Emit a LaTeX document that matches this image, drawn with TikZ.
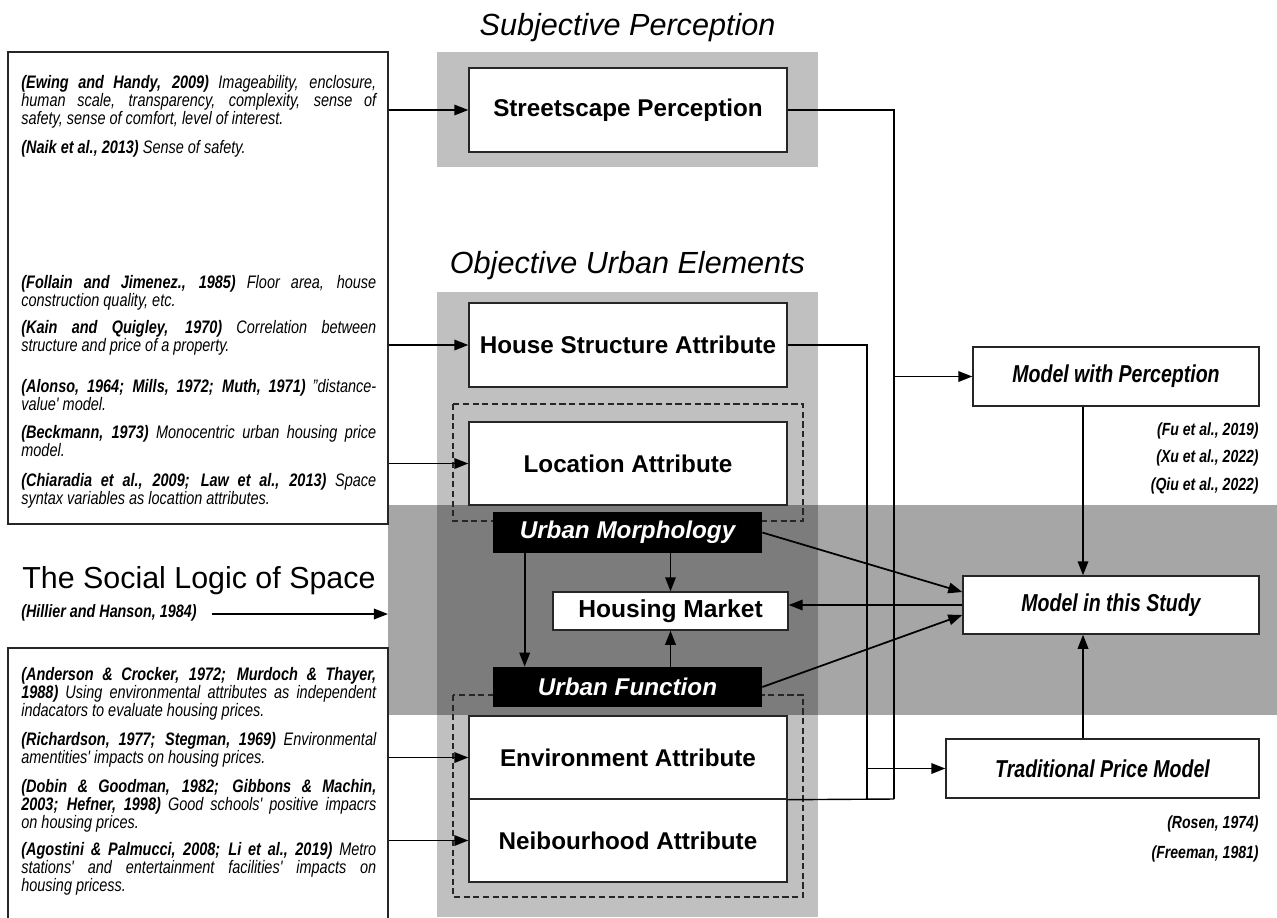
\documentclass[tikz,border=0pt]{standalone}
\usepackage{fontspec}
\setmainfont{Liberation Sans}
\newfontfamily\narrowfont[FakeStretch=0.8]{Liberation Sans}
\usetikzlibrary{arrows.meta,positioning}
\definecolor{bandgray}{HTML}{C0C0C0}
\newcommand\litpar[1]{\parbox[t]{7.1cm}{\tolerance=10000\relax #1}}

\begin{document}
\begin{tikzpicture}[x=0.02cm, y=-0.02cm,
    attrbox/.style={draw=black!85, line width=0.8pt, fill=white, inner sep=0,
      minimum width=6.36cm, minimum height=1.66cm,
      font=\fontsize{13.8pt}{15pt}\selectfont\bfseries},
    blackbox/.style={fill=black, text=white, inner sep=0,
      minimum width=5.38cm, minimum height=0.82cm,
      font=\fontsize{13.8pt}{15pt}\selectfont\bfseries\itshape},
    modelbox/.style={draw=black!85, line width=0.8pt, fill=white, inner sep=0,
      minimum height=1.18cm,
      font=\narrowfont\fontsize{13.9pt}{15pt}\selectfont\bfseries\itshape},
    refframe/.style={draw=black!85, line width=0.8pt, inner sep=0, minimum width=7.6cm},
    dashframe/.style={draw=black!85, line width=0.65pt, dash pattern=on 3.5pt off 2pt},
    reftext/.style={anchor=base west, inner sep=0,
      font=\narrowfont\fontsize{10.3pt}{10.3pt}\selectfont\itshape},
    cite/.style={anchor=base east, inner sep=0,
      font=\narrowfont\fontsize{10pt}{11pt}\selectfont\bfseries\itshape},
    heading/.style={anchor=base, inner sep=0, font=\fontsize{17.4pt}{20pt}\selectfont\itshape},
    arr/.style={-{Triangle[length=8pt,width=6pt]}, line width=1pt},
    link/.style={line width=0.8pt}]
  \useasboundingbox (0,0) rectangle (1277,917);

  % grey bands
  \fill[bandgray] (437,52) rectangle (818,167);
  \fill[bandgray] (437,292) rectangle (818,917);
  \fill[black, opacity=0.35] (388,505) rectangle (1277,715);
  \draw[dashframe] (453,404) rectangle (803,521);
  \draw[dashframe] (453,695) rectangle (803,897);

  % headings
  \node[heading] (subj) at (627.5,35) {Subjective Perception};
  \node[heading] (obj) at (627.5,273) {Objective Urban Elements};
  \node[heading, anchor=base west, font=\fontsize{17.3pt}{20pt}\selectfont] (social) at (22,588) {The Social Logic of Space};

  % literature frames
  \node[refframe, minimum height=9.44cm] (topframe) at (198,288) {};
  \node[refframe, minimum height=5.84cm] (botframe) at (198,794) {};

  \node[reftext] (ewing) at (21,88.5) {\litpar{\textbf{(Ewing and Handy, 2009)} Imageability, enclosure,\linebreak human scale, transparency, complexity, sense of\linebreak safety, sense of comfort, level of interest.}};
  \node[reftext] (naik) at (21,153.5) {\litpar{\textbf{(Naik et al., 2013)} Sense of safety.}};
  \node[reftext] (follain) at (21,288.5) {\litpar{\textbf{(Follain and Jimenez., 1985)} Floor area, house\linebreak construction quality, etc.}};
  \node[reftext] (kain) at (21,333.5) {\litpar{\textbf{(Kain and Quigley, 1970)} Correlation between\linebreak structure and price of a property.}};
  \node[reftext] (alonso) at (21,392.5) {\litpar{\textbf{(Alonso, 1964; Mills, 1972; Muth, 1971)} ”distance-\linebreak value' model.}};
  \node[reftext] (beckmann) at (21,438.5) {\litpar{\textbf{(Beckmann, 1973)} Monocentric urban housing price\linebreak model.}};
  \node[reftext] (chiaradia) at (21,486.5) {\litpar{\textbf{(Chiaradia et al., 2009; Law et al., 2013)} Space\linebreak syntax variables as locattion attributes.}};
  \node[reftext] (anderson) at (21,680.5) {\litpar{\textbf{(Anderson \& Crocker, 1972; Murdoch \& Thayer,\linebreak 1988)} Using environmental attributes as independent\linebreak indacators to evaluate housing prices.}};
  \node[reftext] (richardson) at (21,745.5) {\litpar{\textbf{(Richardson, 1977; Stegman, 1969)} Environmental\linebreak amentities' impacts on housing prices.}};
  \node[reftext] (dobin) at (21,792.5) {\litpar{\textbf{(Dobin \& Goodman, 1982; Gibbons \& Machin,\linebreak 2003; Hefner, 1998)} Good schools' positive impacrs\linebreak on housing prices.}};
  \node[reftext] (agostini) at (21,855.5) {\litpar{\textbf{(Agostini \& Palmucci, 2008; Li et al., 2019)} Metro\linebreak stations' and entertainment facilities' impacts on\linebreak housing pricess.}};
  \node[cite, anchor=base west, font=\narrowfont\fontsize{10.2pt}{11pt}\selectfont\bfseries\itshape] (hillier) at (21,617) {(Hillier and Hanson, 1984)};
  \coordinate (bandwest) at (388,614);

  % attributes
  \node[attrbox, minimum height=1.68cm] (street) at (628,110) {Streetscape Perception};
  \node[attrbox, minimum height=1.68cm] (house) at (628,345) {House Structure Attribute};
  \node[attrbox] (location) at (628,463.5) {Location Attribute};
  \node[attrbox] (envir) at (628,757.5) {Environment Attribute};
  \node[attrbox] (neigh) at (628,840.5) {Neibourhood Attribute};
  \node[blackbox] (morph) at (627.5,532.5) {Urban Morphology};
  \node[blackbox, minimum height=0.8cm] (function) at (627.5,687) {Urban Function};
  \node[attrbox, minimum width=4.7cm, minimum height=0.76cm, font=\fontsize{14pt}{15pt}\selectfont\bfseries] (market) at (670.5,611) {Housing Market};

  % models
  \node[modelbox, minimum width=5.72cm] (withper) at (1116,376.5) {Model with Perception};
  \node[modelbox, minimum width=5.92cm, minimum height=1.16cm] (study) at (1111,605) {Model in this Study};
  \node[modelbox, minimum width=6.26cm] (trad) at (1102.5,768.5) {Traditional Price Model};
  \node[cite] (fu) at (1259,435) {(Fu et al., 2019)};
  \node[cite] (xu) at (1259,462) {(Xu et al., 2022)};
  \node[cite] (qiu) at (1259,490) {(Qiu et al., 2022)};
  \node[cite] (rosen) at (1259,828) {(Rosen, 1974)};
  \node[cite] (freeman) at (1259,858) {(Freeman, 1981)};

  % literature arrows
  \draw[arr] (street.west -| topframe.east) -- (street.west);
  \draw[arr] (house.west -| topframe.east) -- (house.west);
  \draw[arr] (location.west -| topframe.east) -- (location.west);
  \draw[arr] (envir.west -| botframe.east) -- (envir.west);
  \draw[arr] (neigh.west -| botframe.east) -- (neigh.west);
  \draw[arr] ([xshift=0.3cm]hillier.east |- bandwest) -- (bandwest);

  % inside the urban band
  \draw[arr] (market.north |- morph.south) -- (market.north);
  \draw[arr] (market.south |- function.north) -- (market.south);
  \draw[arr] ([xshift=0.64cm]morph.south west) -- ([xshift=0.64cm]function.north west);
  \draw[arr] (study.west) -- (study.west -| market.east);
  \draw[arr] (morph.east) -- ([yshift=0.26cm]study.west);
  \draw[arr] (function.east) -- ([yshift=-0.2cm]study.west);

  % busses to the models
  \coordinate (busA) at (867,799);
  \coordinate (busB) at (894,799);
  \draw[link] (street.east) -| (busB);
  \draw[link] (house.east) -| (busA);
  \draw[link] (envir.south east) -- (busB);
  \draw[arr] (busB |- withper.west) -- (withper.west);
  \draw[arr] (busA |- trad.west) -- (trad.west);
  \draw[arr] ([xshift=-0.56cm]study.north |- withper.south) -- ([xshift=-0.56cm]study.north);
  \draw[arr] ([xshift=-0.56cm]study.south |- trad.north) -- ([xshift=-0.56cm]study.south);
\end{tikzpicture}
\end{document}
